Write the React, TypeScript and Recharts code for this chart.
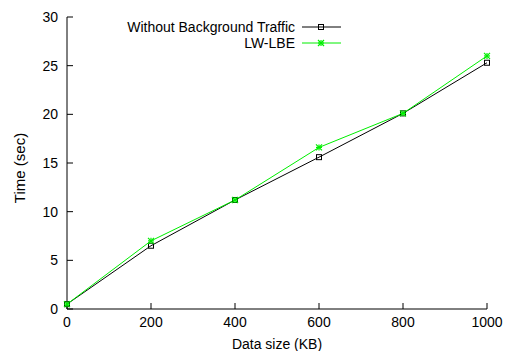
import React from 'react';
import { LineChart, Line, XAxis, YAxis } from 'recharts';

const dataSizes = [0, 200, 400, 600, 800, 1000];
const withoutBackground = [0.5, 6.5, 11.2, 15.6, 20.1, 25.3];
const lwLbe = [0.5, 7.0, 11.2, 16.6, 20.1, 26.0];
const xTicks = [0, 200, 400, 600, 800, 1000];
const yTicks = [0, 5, 10, 15, 20, 25, 30];
const seriesNames = ['Without Background Traffic', 'LW-LBE'];

const data = dataSizes.map((s, i) => ({ size: s, a: withoutBackground[i], b: lwLbe[i] }));

const FONT = '"Liberation Sans", Arial, Helvetica, sans-serif';
const GREEN = '#00ee00';

const SquareDot = (props: any) => {
  const { cx, cy } = props;
  if (cx == null || cy == null) return null;
  return <rect x={cx - 2.5} y={cy - 2.5} width={5} height={5} fill="none" stroke="#000" strokeWidth={1} />;
};

const StarDot = (props: any) => {
  const { cx, cy } = props;
  if (cx == null || cy == null) return null;
  const r = 3;
  return (
    <g stroke={GREEN} strokeWidth={1.2}>
      <line x1={cx - r} y1={cy} x2={cx + r} y2={cy} />
      <line x1={cx} y1={cy - r} x2={cx} y2={cy + r} />
      <line x1={cx - r} y1={cy - r} x2={cx + r} y2={cy + r} />
      <line x1={cx - r} y1={cy + r} x2={cx + r} y2={cy - r} />
    </g>
  );
};

const YLabel = (props: any) => {
  const vb = props.viewBox || {};
  const cx = 19;
  const cy = (vb.y ?? 17) + (vb.height ?? 292) / 2 + 5;
  return (
    <text
      x={cx}
      y={cy}
      transform={`rotate(-90, ${cx}, ${cy})`}
      textAnchor="middle"
      dominantBaseline="central"
      fontSize={15}
      fontFamily={FONT}
      fill="#000"
    >
      Time (sec)
    </text>
  );
};

export default function App() {
  return (
    <div style={{ position: 'absolute', left: 0, top: 0, width: 511, height: 351, background: '#fff' }}>
      <LineChart
        width={511}
        height={351}
        data={data}
        margin={{ top: 17, right: 24, bottom: 0, left: 0 }}
        style={{ fontFamily: FONT }}
      >
        <XAxis
          xAxisId="bottom"
          dataKey="size"
          type="number"
          domain={[0, 1000]}
          ticks={xTicks}
          height={42}
          tickSize={-6}
          tickMargin={14}
          stroke="#000"
          tick={{ fill: '#000', fontSize: 14, fontFamily: FONT }}
          axisLine={{ stroke: '#000', strokeWidth: 1 }}
          tickLine={{ stroke: '#000' }}
          label={{ value: 'Data size (KB)', position: 'insideBottom', offset: 2, fill: '#000', fontSize: 14, fontFamily: FONT }}
        />
        <XAxis
          xAxisId="top"
          orientation="top"
          dataKey="size"
          type="number"
          domain={[0, 1000]}
          ticks={xTicks}
          height={0}
          tickSize={-6}
          tickFormatter={() => ''}
          stroke="#000"
          axisLine={{ stroke: '#000', strokeWidth: 1 }}
          tickLine={{ stroke: '#000' }}
        />
        <YAxis
          yAxisId="left"
          domain={[0, 30]}
          ticks={yTicks}
          width={67}
          tickSize={-6}
          tickMargin={15}
          stroke="#000"
          tick={{ fill: '#000', fontSize: 14, fontFamily: FONT }}
          axisLine={{ stroke: '#000', strokeWidth: 1 }}
          tickLine={{ stroke: '#000' }}
          label={<YLabel />}
        />
        <YAxis
          yAxisId="right"
          orientation="right"
          domain={[0, 30]}
          ticks={yTicks}
          width={0}
          tickSize={-6}
          tickFormatter={() => ''}
          stroke="#000"
          axisLine={{ stroke: '#000', strokeWidth: 1 }}
          tickLine={{ stroke: '#000' }}
        />
        <Line
          xAxisId="bottom"
          yAxisId="left"
          dataKey="a"
          name={seriesNames[0]}
          stroke="#000"
          strokeWidth={1}
          dot={<SquareDot />}
          isAnimationActive={false}
        />
        <Line
          xAxisId="bottom"
          yAxisId="left"
          dataKey="b"
          name={seriesNames[1]}
          stroke={GREEN}
          strokeWidth={1}
          dot={<StarDot />}
          isAnimationActive={false}
        />
      </LineChart>
      <svg
        width={511}
        height={60}
        style={{ position: 'absolute', left: 0, top: 0, pointerEvents: 'none', fontFamily: FONT }}
      >
        {seriesNames.map((name, i) => {
          const y = 27 + i * 16;
          return (
            <g key={name}>
              <text x={295} y={y} textAnchor="end" dominantBaseline="central" fontSize={14} fill="#000">
                {name}
              </text>
              <line x1={302} y1={y} x2={341} y2={y} stroke={i === 0 ? '#000' : GREEN} strokeWidth={1} />
              {i === 0 ? <SquareDot cx={321} cy={y} /> : <StarDot cx={321} cy={y} />}
            </g>
          );
        })}
      </svg>
    </div>
  );
}
